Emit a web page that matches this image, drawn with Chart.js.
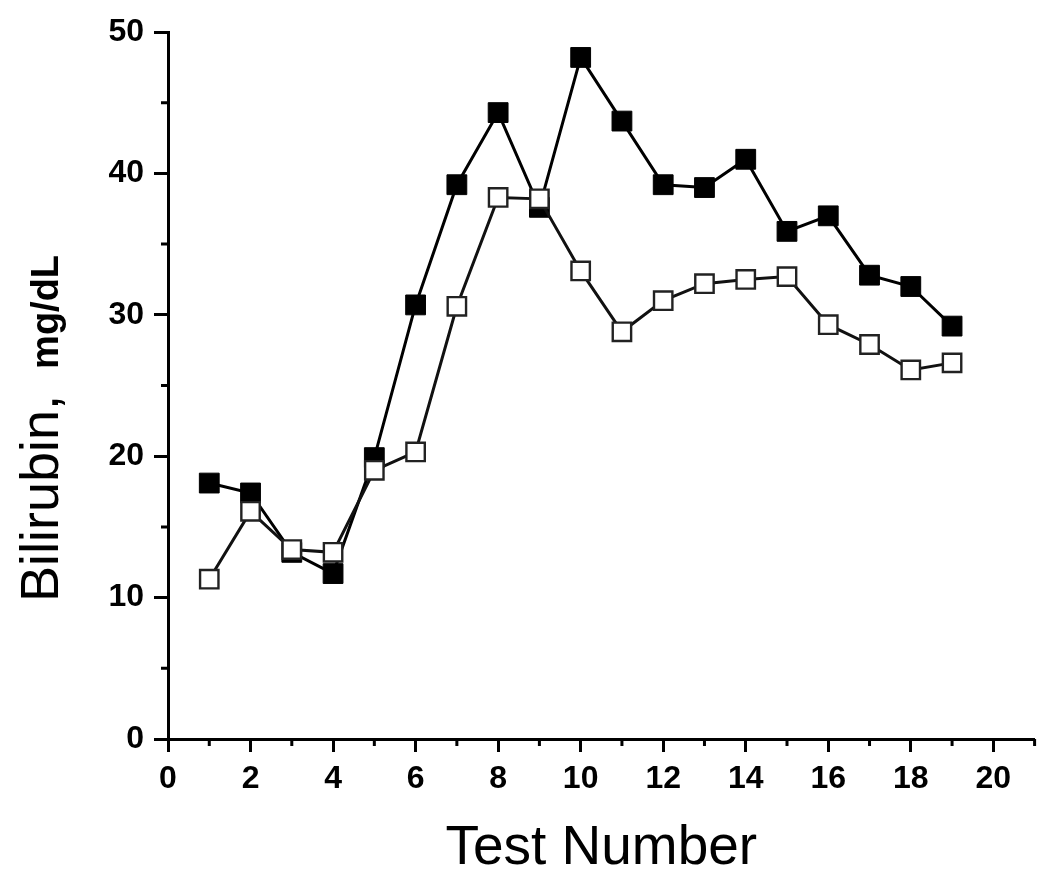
<!DOCTYPE html>
<html>
<head>
<meta charset="utf-8">
<script src="https://cdn.jsdelivr.net/npm/chart.js@4/dist/chart.umd.min.js"></script>
<style>
  body { margin: 0; background: #fff; }
  canvas { display: block; }
</style>
</head>
<body>
<canvas id="bili-chart" width="1050" height="888"></canvas>
<script>
const testNumber = [1, 2, 3, 4, 5, 6, 7, 8, 9, 10, 11, 12, 13, 14, 15, 16, 17, 18, 19];
const filledValues = [18.1, 17.4, 13.2, 11.7, 19.9, 30.7, 39.2, 44.3, 37.6, 48.2, 43.7, 39.2, 39.0, 41.0, 35.9, 37.0, 32.8, 32.0, 29.2];
const openValues = [11.3, 16.1, 13.4, 13.2, 19.0, 20.3, 30.6, 38.3, 38.2, 33.1, 28.8, 31.0, 32.2, 32.5, 32.7, 29.3, 27.9, 26.1, 26.6];
const xMajorTicks = [0, 2, 4, 6, 8, 10, 12, 14, 16, 18, 20];
const xMinorTicks = [1, 3, 5, 7, 9, 11, 13, 15, 17, 19, 21];
const yMajorTicks = [0, 10, 20, 30, 40, 50];
const yMinorTicks = [5, 15, 25, 35, 45];

const FONT = "'Liberation Sans', Arial, sans-serif";
const ctx = document.getElementById('bili-chart');
console.clear();

function toPoints(values) {
    return values.map((v, i) => ({ x: testNumber[i], y: v }));
}

// minor ticks + the two-part y title
const extras = {
    id: 'extras',
    afterDraw(chart) {
        const c = chart.ctx;
        const xs = chart.scales.x;
        const ys = chart.scales.y;
        const area = chart.chartArea;
        c.save();
        c.strokeStyle = '#000';
        c.lineWidth = 3;
        c.beginPath();
        xMinorTicks.forEach(v => {
            const px = xs.getPixelForValue(v);
            c.moveTo(px, area.bottom);
            c.lineTo(px, area.bottom + 7);
        });
        yMinorTicks.forEach(v => {
            const py = ys.getPixelForValue(v);
            c.moveTo(area.left, py);
            c.lineTo(area.left - 7, py);
        });
        c.stroke();

        c.fillStyle = '#000';
        c.translate(58, 602);
        c.rotate(-Math.PI / 2);
        c.textBaseline = 'alphabetic';
        c.font = '54px ' + FONT;
        c.fillText('Bilirubin,', 0, 0);
        const w = c.measureText('Bilirubin,').width;
        c.font = 'bold 38px ' + FONT;
        c.fillText('mg/dL', w + 26, 0);
        c.restore();
    }
};

new Chart(ctx, {
    type: 'line',
    data: {
        datasets: [{
            data: toPoints(openValues),
            borderColor: '#111',
            borderWidth: 3,
            pointStyle: 'rect',
            pointRadius: 13,
            pointBorderWidth: 2.4,
            pointBackgroundColor: '#fff',
            pointBorderColor: '#222',
            fill: false,
            tension: 0
        }, {
            data: toPoints(filledValues),
            borderColor: '#000',
            borderWidth: 3,
            pointStyle: 'rect',
            pointRadius: 14,
            pointBorderWidth: 1,
            pointBackgroundColor: '#000',
            pointBorderColor: '#000',
            fill: false,
            tension: 0
        }]
    },
    options: {
        responsive: false,
        animation: false,
        layout: {
            padding: { top: 32, right: 15, left: 0, bottom: 0 }
        },
        plugins: {
            legend: { display: false },
            tooltip: { enabled: false }
        },
        scales: {
            x: {
                type: 'linear',
                min: 0,
                max: 21,
                afterFit(scale) { scale.height = 149; },
                afterBuildTicks(scale) {
                    scale.ticks = xMajorTicks.map(v => ({ value: v }));
                },
                border: { display: true, color: '#000', width: 3 },
                grid: {
                    drawOnChartArea: false,
                    drawTicks: true,
                    tickLength: 13,
                    tickWidth: 3,
                    tickColor: '#000'
                },
                ticks: {
                    color: '#000',
                    padding: 8,
                    maxRotation: 0,
                    autoSkip: false,
                    font: { family: FONT, size: 32, weight: 'bold' }
                },
                title: {
                    display: true,
                    text: 'Test Number',
                    color: '#000',
                    padding: { top: 0, bottom: 6 },
                    font: { family: FONT, size: 55 }
                }
            },
            y: {
                min: 0,
                max: 50,
                afterFit(scale) { scale.width = 168; },
                afterBuildTicks(scale) {
                    scale.ticks = yMajorTicks.map(v => ({ value: v }));
                },
                border: { display: true, color: '#000', width: 3 },
                grid: {
                    drawOnChartArea: false,
                    drawTicks: true,
                    tickLength: 14,
                    tickWidth: 3,
                    tickColor: '#000'
                },
                ticks: {
                    color: '#000',
                    padding: 10,
                    autoSkip: false,
                    font: { family: FONT, size: 32, weight: 'bold' }
                }
            }
        }
    },
    plugins: [extras]
});
</script>
</body>
</html>
